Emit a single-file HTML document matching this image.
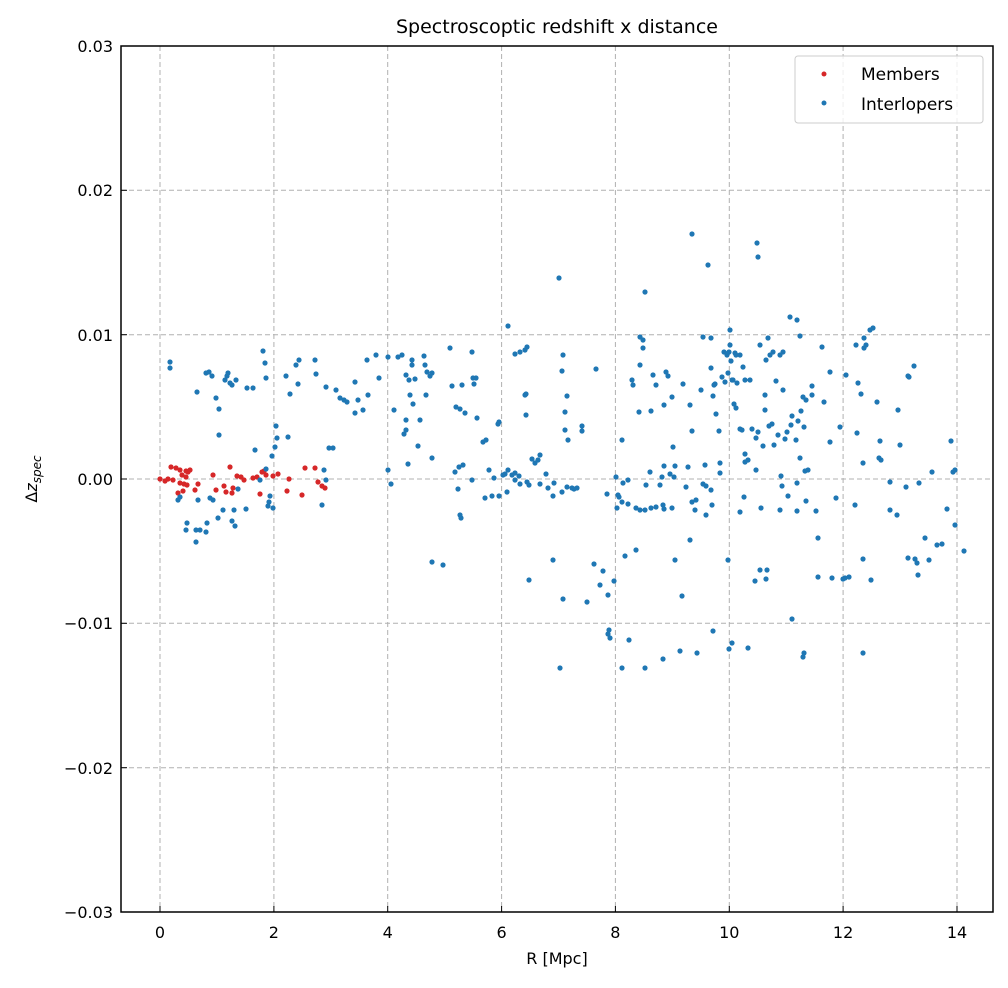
<!DOCTYPE html>
<html><head><meta charset="utf-8"><style>
body{margin:0;background:#fff}
svg text{font-family:"DejaVu Sans","Liberation Sans",sans-serif;fill:#000}
</style></head><body>
<svg id="s" width="1008" height="983" xmlns="http://www.w3.org/2000/svg">
<rect width="1008" height="983" fill="#fff"/>
<g stroke="#b0b0b0" stroke-width="1" stroke-dasharray="5,3">
<line x1="160" y1="46" x2="160" y2="912"/><line x1="273.9" y1="46" x2="273.9" y2="912"/><line x1="387.7" y1="46" x2="387.7" y2="912"/><line x1="501.6" y1="46" x2="501.6" y2="912"/><line x1="615.4" y1="46" x2="615.4" y2="912"/><line x1="729.3" y1="46" x2="729.3" y2="912"/><line x1="843.1" y1="46" x2="843.1" y2="912"/><line x1="957" y1="46" x2="957" y2="912"/>
<line x1="121" y1="190.3" x2="993" y2="190.3"/><line x1="121" y1="334.7" x2="993" y2="334.7"/><line x1="121" y1="479" x2="993" y2="479"/><line x1="121" y1="623.3" x2="993" y2="623.3"/><line x1="121" y1="767.7" x2="993" y2="767.7"/>
</g>
<g id="pts"></g>
<rect x="121" y="46" width="872" height="866" fill="none" stroke="#000" stroke-width="1.5"/>
<g stroke="#000" stroke-width="1">
<line x1="160" y1="912" x2="160" y2="906"/><line x1="273.9" y1="912" x2="273.9" y2="906"/><line x1="387.7" y1="912" x2="387.7" y2="906"/><line x1="501.6" y1="912" x2="501.6" y2="906"/><line x1="615.4" y1="912" x2="615.4" y2="906"/><line x1="729.3" y1="912" x2="729.3" y2="906"/><line x1="843.1" y1="912" x2="843.1" y2="906"/><line x1="957" y1="912" x2="957" y2="906"/>
<line x1="121" y1="46" x2="127" y2="46"/><line x1="121" y1="190.3" x2="127" y2="190.3"/><line x1="121" y1="334.7" x2="127" y2="334.7"/><line x1="121" y1="479" x2="127" y2="479"/><line x1="121" y1="623.3" x2="127" y2="623.3"/><line x1="121" y1="767.7" x2="127" y2="767.7"/><line x1="121" y1="912" x2="127" y2="912"/>
</g>
<g font-size="16" text-anchor="middle">
<text x="160" y="938">0</text><text x="273.9" y="938">2</text><text x="387.7" y="938">4</text><text x="501.6" y="938">6</text><text x="615.4" y="938">8</text><text x="729.3" y="938">10</text><text x="843.1" y="938">12</text><text x="957" y="938">14</text>
</g>
<g font-size="16" text-anchor="end">
<text x="113" y="52">0.03</text><text x="113" y="196">0.02</text><text x="113" y="341">0.01</text><text x="113" y="485">0.00</text><text x="113" y="629">−0.01</text><text x="113" y="774">−0.02</text><text x="113" y="918">−0.03</text>
</g>
<text x="557" y="964" font-size="16" text-anchor="middle">R [Mpc]</text>
<text x="557" y="33" font-size="19" text-anchor="middle">Spectroscoptic redshift x distance</text>
<text transform="translate(37,479) rotate(-90)" font-size="16" text-anchor="middle">Δ<tspan font-style="italic">z</tspan><tspan font-size="12" font-style="italic" dy="4">spec</tspan></text>
<rect x="795" y="56" width="188" height="67" rx="3" fill="#fff" fill-opacity="0.8" stroke="#ccc"/>
<circle cx="824" cy="74" r="2.5" fill="#d62728"/><circle cx="824" cy="103" r="2.5" fill="#1f77b4"/>
<text x="861" y="80" font-size="17">Members</text><text x="861" y="110" font-size="17">Interlopers</text>
</svg>
<script>
var B=[[170,362],[170,368],[197,392],[206,373],[209,372],[212,376],[216,398],[219,409],[219,435],[225,380],[227,376],[228,373],[230,383],[232,385],[236,380],[247,388],[253,388],[263,351],[265,363],[266,378],[276,426],[277,438],[286,376],[290,394],[296,365],[298,384],[299,360],[315,360],[316,374],[326,387],[329,448],[288,437],[275,447],[272,456],[269,502],[268,506],[273,508],[255,450],[246,509],[234,510],[232,521],[235,526],[223,510],[218,518],[213,500],[210,498],[207,523],[206,532],[198,500],[196,530],[187,523],[186,530],[180,497],[178,500],[196,542],[200,530],[238,489],[260,480],[266,469],[270,496],[322,505],[333,448],[326,480],[324,470],
[336,390],[340,398],[344,400],[347,402],[355,382],[355,413],[358,400],[363,410],[367,360],[368,395],[376,355],[379,378],[388,357],[388,470],[391,484],[394,410],[398,357],[402,355],[404,434],[406,375],[406,420],[409,380],[410,395],[406,430],[412,360],[412,365],[413,404],[415,379],[420,420],[424,356],[425,365],[426,395],[427,372],[430,376],[432,373],[418,446],[408,464],[432,458],[432,562],[443,565],[450,348],[452,386],[456,407],[460,409],[462,385],[465,413],[463,465],[459,467],[455,472],[458,489],[460,515],[461,518],[474,384],[472,352],[473,378],[476,378],[477,418],[472,480],[483,442],[485,498],[489,470],[492,496],[494,478],[498,424],[499,496],[503,475],[505,474],[507,492],[508,326],[515,354],[520,352],[525,395],[526,394],[525,350],[527,347],[529,485],[532,459],[535,463],[540,455],[540,484],[548,488],[553,496],[554,483],[562,371],[562,492],[565,412],[567,396],[568,440],[572,488],[574,489],[582,431],[582,426],[596,369],[607,494],[616,477],[618,495],[559,278],[563,355],[565,430],[538,460],[529,580],[563,599],[567,487],[577,488],[560,668],[594,564],[603,571],[609,630],[608,634],[617,508],[619,497],[622,502],[628,504],[628,480],[622,440],[623,483],[625,556],[632,380],[633,385],[640,365],[643,348],[639,412],[640,337],[643,340],[645,292],[650,472],[651,411],[653,375],[656,385],[660,485],[662,477],[664,466],[666,372],[668,376],[664,405],[670,474],[663,505],[672,397],[672,508],[673,447],[674,477],[683,384],[686,487],[690,540],[690,405],[692,234],[692,431],[688,467],[692,502],[695,510],[696,500],[701,390],[703,484],[705,465],[706,486],[706,515],[708,265],[711,368],[713,396],[714,385],[716,414],[719,431],[720,463],[722,377],[725,382],[728,373],[733,380],[734,404],[736,408],[740,429],[742,430],[743,367],[744,497],[745,454],[745,462],[748,460],[752,429],[756,438],[757,243],[758,257],[758,432],[761,508],[763,446],[765,410],[766,360],[765,395],[768,338],[769,426],[772,424],[774,445],[776,381],[778,435],[781,476],[782,486],[783,390],[785,439],[787,432],[788,496],[790,317],[791,425],[792,416],[796,440],[797,483],[797,511],[798,421],[800,458],[801,411],[804,427],[803,397],[805,471],[806,400],[812,386],[816,511],[818,538],[822,347],[824,402],[806,501],[808,470],[756,470],[780,510],[830,442],[836,498],[855,505],[858,383],[857,433],[863,463],[861,394],[864,348],[877,402],[879,458],[880,441],[890,482],[881,460],[898,410],[897,515],[900,445],[906,487],[951,441],[953,472],[955,525],[909,377],[914,366],[919,483],[925,538],[937,545],[908,376],[932,472],[942,544],[947,509],[955,470],
[614,581],[622,668],[610,638],[629,640],[645,668],[663,659],[680,651],[682,596],[697,653],[713,631],[729,649],[732,643],[748,648],[803,657],[804,653],[863,653],[863,559],[871,580],[845,578],[843,579],[792,619],[766,579],[755,581],[760,570],[767,570],[818,577],[832,578],[849,577],[917,563],[929,560],[908,558],[915,559],[918,575],[964,551],[728,560],[740,512],[675,560],[646,485],[636,508],[640,510],[645,510],[651,508],[656,507],[664,509],[636,550],[608,595],[600,585],[587,602],[553,560],[675,466],[720,473],[711,490],[712,505],
[730,330],[730,345],[732,380],[740,355],[750,380],[760,345],[770,355],[780,355],[797,320],[800,336],[812,395],[830,372],[846,375],[840,427],[856,345],[864,338],[870,330],[873,328],[866,345],[890,510],[783,352],[745,380],[703,337],[711,338],[715,384],[724,352],[727,355],[729,352],[735,353],[737,383],[773,352],[731,361],[736,355],
[486,440],[499,422],[508,470],[512,475],[515,480],[519,476],[527,482],[546,474],[515,473],[520,484],[526,415]];
var R=[[160,479],[165,481],[168,479],[171,467],[173,480],[176,468],[178,493],[180,470],[180,483],[182,475],[183,491],[184,484],[186,477],[186,471],[187,485],[188,472],[190,470],[195,490],[198,484],[213,475],[216,490],[224,486],[226,492],[230,467],[232,493],[233,488],[237,476],[241,477],[244,480],[253,478],[257,477],[260,494],[262,472],[264,471],[266,475],[273,476],[278,474],[287,491],[289,479],[302,495],[305,468],[315,468],[318,482],[322,486],[325,488]];
var g=document.getElementById('pts'),h='';
R.forEach(function(p){h+='<circle cx="'+p[0]+'" cy="'+p[1]+'" r="2.6" fill="#d62728"/>';});
B.forEach(function(p){h+='<circle cx="'+p[0]+'" cy="'+p[1]+'" r="2.6" fill="#1f77b4"/>';});
g.innerHTML=h;
</script>
</body></html>
